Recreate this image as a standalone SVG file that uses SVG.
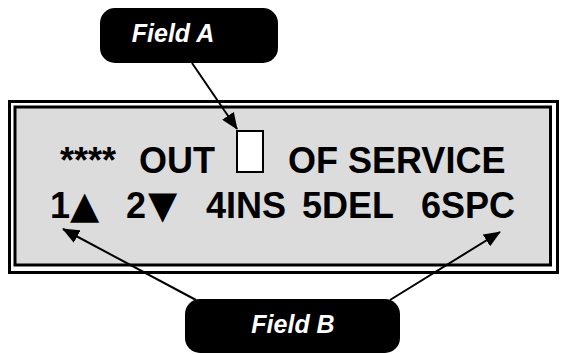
<svg xmlns="http://www.w3.org/2000/svg" width="562" height="354" viewBox="0 0 562 354">
<defs>
<marker id="ah" viewBox="0 0 17 14" refX="16" refY="7" markerWidth="17" markerHeight="14" markerUnits="userSpaceOnUse" orient="auto">
<path d="M0,0 L17,7 L0,14 z" fill="#000"/>
</marker>
<style>
.lcd{font-family:"Liberation Sans",Arial,sans-serif;font-weight:bold;fill:#000;font-size:36px}
.sym{font-family:"DejaVu Sans",sans-serif;font-size:38px;fill:#000}
.lab{font-family:"Liberation Sans",Arial,sans-serif;font-weight:bold;font-style:italic;fill:#fff;font-size:25px;text-anchor:middle}
.ln{stroke:#000;stroke-width:2;fill:none;marker-end:url(#ah)}
</style>
</defs>
<rect width="562" height="354" fill="#fff"/>
<g id="display">
<rect x="9.5" y="101.5" width="548" height="171" fill="#fff" stroke="#000" stroke-width="3"/>
<rect x="15" y="107" width="535.5" height="158" fill="#dcdcdc" stroke="#000" stroke-width="3"/>
<rect x="237" y="131" width="26" height="41" fill="#fff" stroke="#000" stroke-width="2"/>
<text class="lcd" x="60" y="173">****</text>
<text class="lcd" x="139" y="173">OUT</text>
<text class="lcd" x="288" y="173">OF SERVICE</text>
<text class="lcd" x="50" y="218">1</text>
<text class="sym" x="70" y="218">▲</text>
<text class="lcd" x="126" y="218">2</text>
<text class="sym" x="148" y="218">▼</text>
<text class="lcd" x="206" y="218">4INS</text>
<text class="lcd" x="302" y="218">5DEL</text>
<text class="lcd" x="421" y="218">6SPC</text>
</g>
<g id="fieldA">
<rect x="100" y="8" width="178" height="55" rx="15" fill="#000"/>
<text class="lab" x="173" y="42">Field A</text>
</g>
<g id="fieldB">
<rect x="185" y="299" width="215" height="54" rx="15" fill="#000"/>
<text class="lab" x="293" y="333">Field B</text>
</g>
<g id="connectors">
<line class="ln" x1="192" y1="63" x2="237" y2="129"/>
<line class="ln" x1="196" y1="300" x2="63" y2="229"/>
<line class="ln" x1="390" y1="300" x2="500" y2="232"/>
</g>
</svg>
